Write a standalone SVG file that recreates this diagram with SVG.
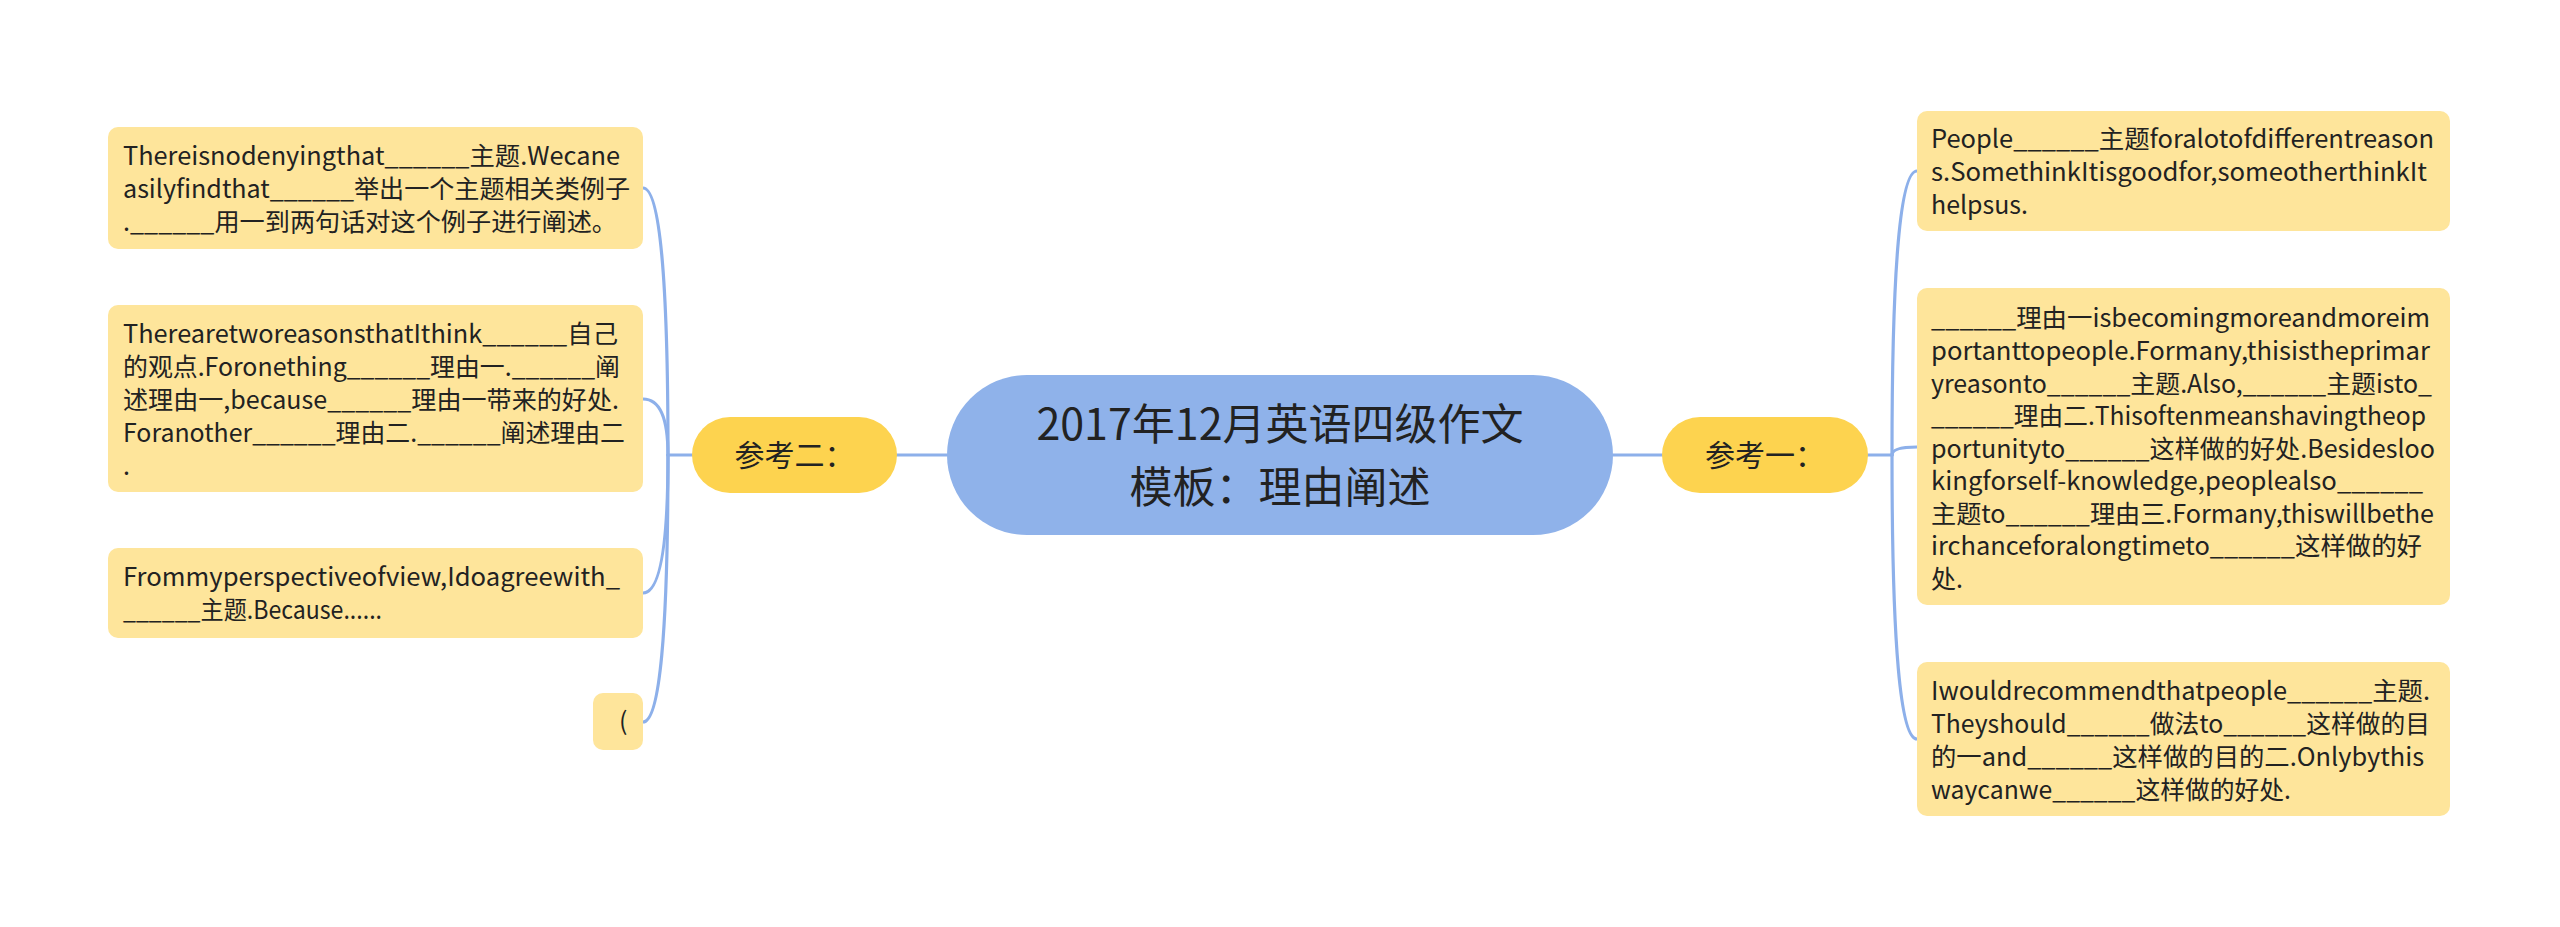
<svg xmlns="http://www.w3.org/2000/svg" width="2560" height="927" viewBox="0 0 2560 927">
<style>
.leaf{fill:#FEE59B}
.sub{fill:#FDD34F}
.root{fill:#8FB2EA}
.t{font-family:"Noto Sans CJK SC","Noto Sans",sans-serif;font-size:25px;fill:#222}
.ts{font-family:"Noto Sans CJK SC","Noto Sans",sans-serif;font-size:30px;fill:#222}
.tr{font-family:"Noto Sans CJK SC","Noto Sans",sans-serif;font-size:43px;fill:#222}
.c{fill:none;stroke:#8DB0EA;stroke-width:3.2;stroke-linecap:round}
</style>
<rect width="2560" height="927" fill="#fff"/>
<g id="connectors">
<path class="c" d="M897,455 L947,455"/>
<path class="c" d="M1613,455 L1662,455"/>
<path class="c" d="M692,455 L668,455"/>
<path class="c" d="M668,455 Q668,188 643,188"/>
<path class="c" d="M668,455 Q668,399 643,399"/>
<path class="c" d="M668,455 Q668,593 643,593"/>
<path class="c" d="M668,455 Q668,722 643,722"/>
<path class="c" d="M1868,455 L1892,455"/>
<path class="c" d="M1892,455 Q1892,171 1917,171"/>
<path class="c" d="M1892,455 Q1892,447 1917,447"/>
<path class="c" d="M1892,455 Q1892,739 1917,739"/>
</g>
<g id="root">
<rect class="root" x="947" y="375" width="666" height="160" rx="80"/>
<text class="tr" x="1280" y="440" text-anchor="middle">2017年12月英语四级作文</text>
<text class="tr" x="1280" y="503" text-anchor="middle">模板：理由阐述</text>
</g>
<g id="ref2">
<rect class="sub" x="692" y="417" width="205" height="76" rx="38"/>
<text class="ts" x="794.5" y="466" text-anchor="middle">参考二：</text>
</g>
<g id="ref1">
<rect class="sub" x="1662" y="417" width="206" height="76" rx="38"/>
<text class="ts" x="1765" y="466" text-anchor="middle">参考一：</text>
</g>
<g id="l1">
<rect class="leaf" x="108" y="127" width="535" height="122" rx="10"/>
<text class="t" x="123" y="165" textLength="497" lengthAdjust="spacingAndGlyphs">Thereisnodenyingthat______主题.Wecane</text>
<text class="t" x="123" y="198" textLength="507" lengthAdjust="spacingAndGlyphs">asilyfindthat______举出一个主题相关类例子</text>
<text class="t" x="123" y="231" textLength="494" lengthAdjust="spacingAndGlyphs">.______用一到两句话对这个例子进行阐述。</text>
</g>
<g id="l2">
<rect class="leaf" x="108" y="305" width="535" height="187" rx="10"/>
<text class="t" x="123" y="343" textLength="495" lengthAdjust="spacingAndGlyphs">TherearetworeasonsthatIthink______自己</text>
<text class="t" x="123" y="376" textLength="497" lengthAdjust="spacingAndGlyphs">的观点.Foronething______理由一.______阐</text>
<text class="t" x="123" y="409" textLength="496" lengthAdjust="spacingAndGlyphs">述理由一,because______理由一带来的好处.</text>
<text class="t" x="123" y="442" textLength="502" lengthAdjust="spacingAndGlyphs">Foranother______理由二.______阐述理由二</text>
<text class="t" x="123" y="475">.</text>
</g>
<g id="l3">
<rect class="leaf" x="108" y="548" width="535" height="90" rx="10"/>
<text class="t" x="123" y="586" textLength="497" lengthAdjust="spacingAndGlyphs">Frommyperspectiveofview,Idoagreewith_</text>
<text class="t" x="123" y="619" textLength="259" lengthAdjust="spacingAndGlyphs">______主题.Because......</text>
</g>
<g id="l4">
<rect class="leaf" x="593" y="693" width="50" height="57" rx="10"/>
<text class="t" x="619" y="730">(</text>
</g>
<g id="r1">
<rect class="leaf" x="1917" y="111" width="533" height="120" rx="10"/>
<text class="t" x="1931" y="148" textLength="503" lengthAdjust="spacingAndGlyphs">People______主题foralotofdifferentreason</text>
<text class="t" x="1931" y="181" textLength="496" lengthAdjust="spacingAndGlyphs">s.SomethinkItisgoodfor,someotherthinkIt</text>
<text class="t" x="1931" y="214" textLength="97" lengthAdjust="spacingAndGlyphs">helpsus.</text>
</g>
<g id="r2">
<rect class="leaf" x="1917" y="288" width="533" height="317" rx="10"/>
<text class="t" x="1931" y="327" textLength="499" lengthAdjust="spacingAndGlyphs">______理由一isbecomingmoreandmoreim</text>
<text class="t" x="1931" y="360" textLength="499" lengthAdjust="spacingAndGlyphs">portanttopeople.Formany,thisistheprimar</text>
<text class="t" x="1931" y="393" textLength="501" lengthAdjust="spacingAndGlyphs">yreasonto______主题.Also,______主题isto_</text>
<text class="t" x="1931" y="425" textLength="495" lengthAdjust="spacingAndGlyphs">______理由二.Thisoftenmeanshavingtheop</text>
<text class="t" x="1931" y="458" textLength="504" lengthAdjust="spacingAndGlyphs">portunityto______这样做的好处.Besidesloo</text>
<text class="t" x="1931" y="490" textLength="492" lengthAdjust="spacingAndGlyphs">kingforself-knowledge,peoplealso______</text>
<text class="t" x="1931" y="523" textLength="503" lengthAdjust="spacingAndGlyphs">主题to______理由三.Formany,thiswillbethe</text>
<text class="t" x="1931" y="555" textLength="491" lengthAdjust="spacingAndGlyphs">irchanceforalongtimeto______这样做的好</text>
<text class="t" x="1931" y="588">处.</text>
</g>
<g id="r3">
<rect class="leaf" x="1917" y="662" width="533" height="154" rx="10"/>
<text class="t" x="1931" y="700" textLength="499" lengthAdjust="spacingAndGlyphs">Iwouldrecommendthatpeople______主题.</text>
<text class="t" x="1931" y="733" textLength="499" lengthAdjust="spacingAndGlyphs">Theyshould______做法to______这样做的目</text>
<text class="t" x="1931" y="766" textLength="493" lengthAdjust="spacingAndGlyphs">的一and______这样做的目的二.Onlybythis</text>
<text class="t" x="1931" y="799" textLength="360" lengthAdjust="spacingAndGlyphs">waycanwe______这样做的好处.</text>
</g>
</svg>
